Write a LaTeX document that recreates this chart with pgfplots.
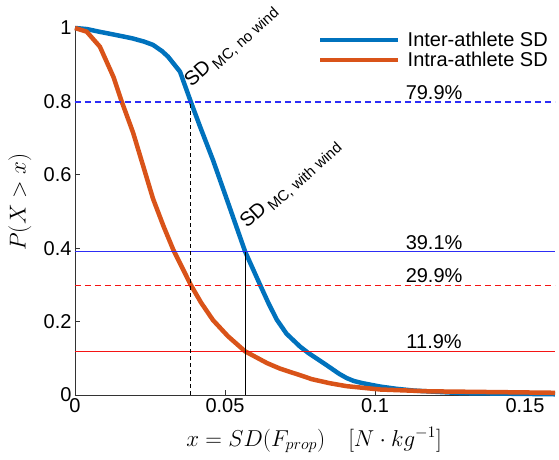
\RequirePackage{fix-cm}
\documentclass[border=0pt]{standalone}
\usepackage[no-math]{fontspec}
\setmainfont{Liberation Sans}
\usepackage{pgfplots}
\pgfplotsset{compat=1.18}
\definecolor{mblue}{RGB}{0,114,189}
\definecolor{morange}{RGB}{217,83,25}
\definecolor{refblue}{RGB}{45,45,245}
\definecolor{refred}{RGB}{245,20,20}
\begin{document}
\begin{tikzpicture}
\begin{axis}[
  at={(0,0)}, anchor=south west,
  scale only axis, width=480pt, height=367pt,
  xmin=0, xmax=0.16, ymin=0, ymax=1,
  axis lines*=left,
  axis line style={black!80, line width=0.8pt},
  tick align=inside,
  major tick length=5pt,
  tick style={black!80, line width=0.6pt},
  xtick={0,0.05,0.1,0.15}, xticklabels={0,0.05,0.1,0.15},
  ytick={0,0.2,0.4,0.6,0.8,1}, yticklabels={0,0.2,0.4,0.6,0.8,1},
  ticklabel style={font=\fontsize{20}{24}\selectfont},
  /pgf/number format/assume math mode=true,
  xlabel={$x = SD(F_{prop})\quad [N\cdot kg^{-1}]$},
  ylabel={$P(X>x)$},
  label style={font=\fontsize{23}{27}\selectfont},
  xlabel style={at={(axis description cs:0.498,-0.123)}, anchor=center},
  ylabel style={at={(axis description cs:-0.115,0.526)}, anchor=center},
  clip=false,
  legend cell align=left,
  legend style={at={(axis description cs:0.50,1.0)}, anchor=north west,
    draw=none, fill=none, font=\fontsize{20}{24}\selectfont,
    /tikz/every odd column/.append style={column sep=5pt}},
  legend image code/.code={\draw[#1] (0pt,0pt) -- (78pt,0pt);},
]
\addplot[mblue, line width=4.5pt, line join=round] coordinates {
(0,1.000) (0.004,0.997) (0.008,0.990) (0.013,0.982) (0.019,0.972)
(0.023,0.963) (0.026,0.954) (0.029,0.937) (0.031,0.922) (0.035,0.881)
(0.0386,0.799) (0.0417,0.731) (0.046,0.640) (0.0507,0.531) (0.0567,0.391)
(0.0617,0.300) (0.0645,0.250) (0.0672,0.206) (0.0705,0.167) (0.075,0.132)
(0.0777,0.115) (0.081,0.097) (0.085,0.075) (0.088,0.058) (0.0906,0.046)
(0.093,0.038) (0.096,0.032) (0.1017,0.023) (0.107,0.017) (0.113,0.012)
(0.129,0.005) (0.16,0.002)};
\addlegendentry{Inter-athlete SD}
\addplot[morange, line width=4.5pt, line join=round] coordinates {
(0,1) (0.0039,0.99) (0.0083,0.949) (0.0128,0.867) (0.0156,0.799)
(0.0194,0.714) (0.0228,0.622) (0.026,0.535) (0.0295,0.460) (0.0328,0.395)
(0.0386,0.300) (0.042,0.252) (0.046,0.204) (0.051,0.160) (0.0567,0.119)
(0.064,0.087) (0.0683,0.072) (0.075,0.054) (0.079,0.043) (0.085,0.032)
(0.0906,0.024) (0.1017,0.015) (0.118,0.010) (0.16,0.006)};
\addlegendentry{Intra-athlete SD}
% reference lines
\addplot[refblue, line width=1.5pt, dash pattern=on 6pt off 4pt] coordinates {(0,0.799) (0.16,0.799)};
\addplot[refblue, line width=1.5pt] coordinates {(0,0.391) (0.16,0.391)};
\addplot[refred, line width=1.5pt, dash pattern=on 6pt off 4pt] coordinates {(0,0.299) (0.16,0.299)};
\addplot[refred, line width=1.5pt] coordinates {(0,0.119) (0.16,0.119)};
\addplot[black, line width=1.1pt, dash pattern=on 4pt off 3pt] coordinates {(0.0386,0) (0.0386,0.799)};
\addplot[black, line width=1.1pt] coordinates {(0.0567,0) (0.0567,0.391)};
% labels
\node[anchor=south, inner sep=2pt, font=\fontsize{20}{24}\selectfont] at (axis cs:0.1197,0.799) {79.9\%};
\node[anchor=south, inner sep=2pt, font=\fontsize{20}{24}\selectfont] at (axis cs:0.1197,0.391) {39.1\%};
\node[anchor=south, inner sep=2pt, font=\fontsize{20}{24}\selectfont] at (axis cs:0.1197,0.299) {29.9\%};
\node[anchor=south, inner sep=2pt, font=\fontsize{20}{24}\selectfont] at (axis cs:0.1197,0.119) {11.9\%};
\node[rotate=42, anchor=base west, inner sep=0pt, font=\fontsize{20}{24}\selectfont] at (axis cs:0.0388,0.838) {SD\,\raisebox{-0.45ex}{\fontsize{15}{17}\selectfont MC, no wind}};
\node[rotate=42, anchor=base west, inner sep=0pt, font=\fontsize{20}{24}\selectfont] at (axis cs:0.0573,0.452) {SD\,\raisebox{-0.45ex}{\fontsize{15}{17}\selectfont MC, with wind}};
\end{axis}
\pgfresetboundingbox
\path[use as bounding box] (-75pt,-65pt) rectangle (484pt,395pt);
\end{tikzpicture}
\end{document}
